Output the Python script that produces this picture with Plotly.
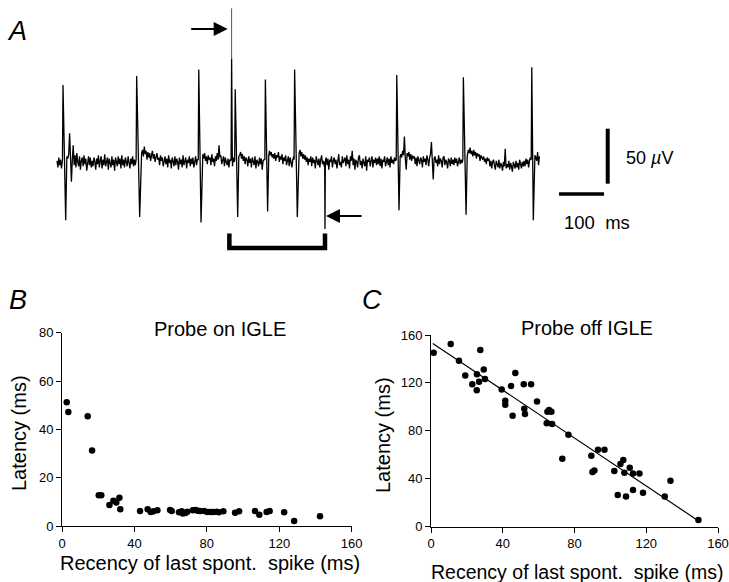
import plotly.graph_objects as go

# ---------------- Panel A: extracellular trace (time in ms, voltage in uV) -------------
sample_ms = 2  # baseline noise sampled every 2 ms
baseline_noise = [
    2, -4, 5, -2, 3, -5, 0, 0, 0, 0, 0, 0, 4, 8, 27, 6, -17, 3, 16, -2, 7, -4, 9, 1, -3, 6, -6, 2, 5, -3, 7, -1, 4, -7, 3, 6, -2, 5, -4, 2,
    -3, 5, 1, -6, 4, -1, 7, -4, 2, 6, -5, 3, -2, 8, -3, 1, 5, -6, 4, 0, -4, 6, -2, 3, -7, 5, 1, -3, 6, -1, 4, -5, 7, -2, 3, -4, 5, 0, -3, 6,
    2, -5, 4, -1, 6, -3, 3, -2, 0, 0, 0, 0, 0, 0, 9, 12, 6, 15, 8, 11, 3, 10, 5, 9, 2, 7, 11, 4, 8, 1, 6, 9, 3, 5, -2, 7, 2, 5, -3, 4,
    6, -1, 4, -4, 7, 0, 3, -5, 5, 2, -3, 6, -2, 4, 1, -6, 5, -1, 3, -4, 7, -2, 2, 5, -5, 3, 0, 6, -3, 4, -1, 5, -4, 2, 6, -2, 3, 0, 0, 0,
    0, 0, 8, 4, 9, 2, 6, -1, 7, 3, 5, -2, 8, 1, 4, -3, 6, 2, 9, 3, 16, 5, 7, -1, 4, 6, -3, 5, 1, -2, 4, -4, 3, 2, 0, -3, 5, 1, 0, 0,
    0, 0, 0, 7, 10, 4, 8, 2, 6, -1, 5, 3, -3, 6, 0, 4, -4, 5, 2, -2, 6, -5, 3, 1, -3, 5, -1, 4, -6, 2, 3, 0, 0, 0, 0, 0, 11, 7, 10, 5,
    8, 4, 9, 2, 7, 5, 10, 1, 6, 3, 8, -1, 5, 2, 7, -2, 4, 6, -3, 5, 1, -4, 3, 6, 0, 0, 0, 0, 0, 9, 12, 6, 10, 4, 8, 3, 7, 1, 5, -2,
    4, 1, 6, -3, 5, 0, 3, -5, 6, 2, -2, 4, -4, 3, 7, -1, 2, -3, 0, 5, -2, 4, -6, 3, 1, 6, -4, 2, 5, -1, 3, -5, 4, 8, -2, 1, -4, 6, 0, 3,
    5, -3, 7, -1, 3, -5, 6, 2, 11, -2, 4, -6, 3, 1, -4, 5, 7, -2, 2, -5, 4, 0, -3, 6, -7, 3, 1, 5, -3, 2, 6, -4, 3, 0, 5, -2, 4, -1, 6, -3,
    4, -5, 3, 1, 6, -3, 2, 5, -2, 4, -4, 6, 0, 3, -1, 5, 2, 0, 0, 0, 0, 0, 8, 5, 11, 7, 24, 4, -6, 9, 6, 10, 3, 8, 2, 7, 4, 6, -1, 5,
    -3, 6, 2, -1, 5, 3, -4, 6, 1, 4, -2, 7, 3, -3, 5, 8, 19, 2, -15, 4, 6, 0, 3, -3, 7, -1, 4, 2, -4, 5, 6, -2, 3, 1, -5, 4, 2, -3, 5, -1,
    3, -2, 5, 0, 4, -3, 2, 5, -1, 3, 0, 0, 0, 0, 0, 0, 0, 12, 9, 14, 8, 11, 6, 12, 7, 10, 4, 9, 6, 8, 2, 7, 5, 3, 6, 1, 4, -1, 5, 2,
    4, -3, 2, -5, 1, 3, -2, -6, 2, -1, -4, 3, -5, 0, -2, -7, 1, -3, 13, -5, -1, -4, 2, -6, 0, -3, -8, 1, -2, -5, 2, -4, 0, -6, 3, -2, -5, 1, -3, 2,
    -3, 4, -1, 3, -4, 2, 5, 0, 0, 0, 0, 7, 5, 2, 10, -2, 6,
]
spike_peak_t = [13.3, 177, 315, 396, 463, 528, 755, 903, 1055]
spike_peak_v = [71, 79, 85, 67, 76, 85, 80, 78, 87]
spike_trough_t = [19.3, 183.7, 320, 401.5, 468, 534, 760, 909, 1058.4]
spike_trough_v = [-52, -49, -54, -49, -44, -49, -43, -47, -52]
artifact_t = 388
artifact_spike_v = 95
artifact_top_v = 140.6
evoked_t = 595.5
evoked_v = -60
scale_ms = 100
scale_uV = 50

# ---------------- Panel B: probe on IGLE ----------------
b_recency = [2.6, 3.5, 14.2, 16.6, 20.3, 21.7, 26.2, 28.4, 30.0, 31.7, 32.2, 43.1,
             47.3, 49.0, 50.5, 52.7, 59.7, 60.6, 64.6, 66.1, 66.7, 68.1, 69.2, 72.2,
             73.8, 75.0, 76.2, 78.5, 80.3, 82.1, 83.6, 85.5, 86.6, 89.1, 95.6, 97.8,
             106.6, 109.0, 113.0, 114.7, 122.7, 128.2, 142.5]
b_latency = [51.2, 47.2, 45.4, 31.2, 12.7, 12.7, 8.7, 10.5, 9.7, 11.7, 6.9, 6.2,
             6.9, 5.8, 6.1, 6.5, 6.6, 6.2, 5.7, 6.1, 5.2, 5.4, 5.9, 6.5,
             6.6, 6.3, 6.2, 6.2, 5.8, 5.8, 5.8, 5.9, 5.7, 6.1, 5.5, 6.1,
             6.2, 4.7, 5.8, 6.2, 5.7, 2.1, 4.0]

# ---------------- Panel C: probe off IGLE ----------------
c_recency = [1.5, 11.0, 15.6, 19.1, 23.0, 25.5, 25.6, 26.8, 27.5, 29.4, 30.1, 39.4,
             41.4, 41.4, 44.6, 45.5, 47.0, 51.7, 55.8, 52.0, 52.4, 59.1, 64.9, 65.8,
             67.1, 64.5, 67.5, 76.6, 73.2, 89.4, 90.0, 91.1, 93.1, 96.7, 102.2, 104.1,
             105.6, 107.2, 107.8, 108.7, 110.8, 112.6, 112.6, 116.2, 118.2, 130.3, 133.5, 149.1]
c_latency = [145.2, 152.5, 138.6, 126.3, 118.8, 113.8, 127.2, 121.0, 147.5, 131.3, 123.3, 114.6,
             105.2, 101.8, 117.4, 92.7, 128.3, 118.8, 118.8, 98.4, 94.0, 104.6, 96.0, 97.4,
             96.0, 86.3, 85.7, 76.8, 56.8, 59.3, 45.6, 47.0, 64.3, 64.3, 46.5, 26.4,
             52.3, 55.6, 45.1, 25.3, 49.2, 30.6, 44.5, 44.5, 28.4, 25.3, 38.4, 5.6]
c_fit_x = [1, 149]
c_fit_y = [153, 5]

ticks_b_x = [0, 40, 80, 120, 160]
ticks_b_y = [0, 20, 40, 60, 80]
ticks_c_x = [0, 40, 80, 120, 160]
ticks_c_y = [0, 40, 80, 120, 160]

FONT = "Liberation Sans, Arial, Helvetica, sans-serif"
W, H = 729, 582

# ---- assemble trace A from the lists ----
windows = [(p - 1.5, tr + 3) for p, tr in zip(spike_peak_t, spike_trough_t)]
windows.append((artifact_t - 1.5, artifact_t + 1.8))
windows.append((evoked_t - 1, evoked_t + 1))
pts = []
for i, v in enumerate(baseline_noise):
    t = i * sample_ms
    if any(lo <= t <= hi for lo, hi in windows):
        continue
    pts.append((t, v))
for p, pv, tr, tv in zip(spike_peak_t, spike_peak_v, spike_trough_t, spike_trough_v):
    pts += [(p - 1.2, 3), (p, pv), (tr, tv), (tr + 2.5, 6)]
pts += [(artifact_t - 1.2, 3), (artifact_t, artifact_spike_v), (artifact_t + 1.5, 8)]
pts += [(evoked_t - 0.7, 1), (evoked_t, evoked_v), (evoked_t + 0.8, 2)]
pts.sort()
trace_t = [p[0] for p in pts]
trace_v = [p[1] for p in pts]

fig = go.Figure()
fig.add_trace(go.Scatter(x=trace_t, y=trace_v, mode="lines",
                         line=dict(color="black", width=1.3),
                         xaxis="x", yaxis="y", hoverinfo="skip"))
fig.add_trace(go.Scatter(x=[artifact_t, artifact_t], y=[artifact_spike_v, artifact_top_v],
                         mode="lines", line=dict(color="#555555", width=1),
                         xaxis="x", yaxis="y", hoverinfo="skip"))
# scale bars
sb_x0 = 1115.6
sb_y = -28.2
fig.add_trace(go.Scatter(x=[sb_x0, sb_x0 + scale_ms], y=[sb_y, sb_y], mode="lines",
                         line=dict(color="black", width=3.5), xaxis="x", yaxis="y"))
vb_x = 1223.8
vb_y0 = -18.8
fig.add_trace(go.Scatter(x=[vb_x, vb_x], y=[vb_y0, vb_y0 + scale_uV], mode="lines",
                         line=dict(color="black", width=4), xaxis="x", yaxis="y"))
# bracket between probe and evoked response
br_left = 383
fig.add_trace(go.Scatter(x=[br_left, br_left, evoked_t, evoked_t],
                         y=[-64, -77.3, -77.3, -64], mode="lines",
                         line=dict(color="black", width=4.5), xaxis="x", yaxis="y"))

# panel B
fig.add_trace(go.Scatter(x=b_recency, y=b_latency, mode="markers",
                         marker=dict(color="black", size=6.5),
                         cliponaxis=False, xaxis="x2", yaxis="y2"))
# panel C
fig.add_trace(go.Scatter(x=c_fit_x, y=c_fit_y, mode="lines",
                         line=dict(color="black", width=1.2), xaxis="x3", yaxis="y3"))
fig.add_trace(go.Scatter(x=c_recency, y=c_latency, mode="markers",
                         marker=dict(color="black", size=6.5),
                         cliponaxis=False, xaxis="x3", yaxis="y3"))

axis_common = dict(showline=True, linecolor="black", linewidth=1, ticks="outside",
                   ticklen=5, tickwidth=1, tickcolor="black", showgrid=False,
                   zeroline=False, automargin=False,
                   tickfont=dict(family=FONT, size=13, color="black"))

fig.update_layout(
    width=W, height=H, margin=dict(l=0, r=0, t=0, b=0, pad=0, autoexpand=False),
    paper_bgcolor="white", plot_bgcolor="white", showlegend=False,
    font=dict(family=FONT, color="black"),
    xaxis=dict(domain=[0, 1], range=[-126.7, 1493.3], visible=False),
    yaxis=dict(domain=[1 - 260 / H, 1], range=[-88.2, 148.2], visible=False),
    xaxis2=dict(domain=[62 / W, 351.7 / W], range=[0, 160], tickvals=ticks_b_x,
                anchor="y2", **axis_common),
    yaxis2=dict(domain=[1 - 526 / H, 1 - 332.7 / H], range=[0, 80], tickvals=ticks_b_y,
                anchor="x2", **axis_common),
    xaxis3=dict(domain=[431 / W, 718 / W], range=[0, 160], tickvals=ticks_c_x,
                anchor="y3", **axis_common),
    yaxis3=dict(domain=[1 - 526.7 / H, 1 - 335 / H], range=[0, 160], tickvals=ticks_c_y,
                anchor="x3", **axis_common),
)

def ann(x, y, text, size=20, angle=0, xanchor="center", italic=False):
    fig.add_annotation(x=x / W, y=1 - y / H, xref="paper", yref="paper",
                       text=f"<i>{text}</i>" if italic else text, showarrow=False,
                       textangle=angle, xanchor=xanchor, yanchor="middle",
                       font=dict(family=FONT, size=size, color="black"))

ann(17, 31, "A", size=27, italic=True)
ann(18, 300, "B", size=27, italic=True)
ann(372, 300, "C", size=27, italic=True)
ann(219.5, 329, "Probe on IGLE", size=20)
ann(586.7, 328, "Probe off IGLE", size=20)
ann(210, 563, "Recency of last spont.  spike (ms)", size=20)
ann(577, 572, "Recency of last spont.  spike (ms)", size=19.5)
ann(19, 433, "Latency (ms)", size=20, angle=-90)
ann(383, 435, "Latency (ms)", size=20, angle=-90)
ann(624, 158, "50 <i>µ</i>V", size=18, xanchor="left")
ann(562, 223, "100  ms", size=18.5, xanchor="left")

# arrows
fig.add_annotation(x=(227.7 - 57) / 0.45, y=(163 - 29) / 1.1, xref="x", yref="y",
                   ax=-38, ay=0, text="", showarrow=True, arrowhead=2,
                   arrowsize=1.4, arrowwidth=2, arrowcolor="black")
fig.add_annotation(x=(326 - 57) / 0.45, y=(163 - 216) / 1.1, xref="x", yref="y",
                   ax=37, ay=0, text="", showarrow=True, arrowhead=2,
                   arrowsize=1.4, arrowwidth=2, arrowcolor="black")

fig.write_html("out.html", config={"displayModeBar": False},
               post_script="document.body.style.margin='0';document.body.style.overflow='hidden';")
